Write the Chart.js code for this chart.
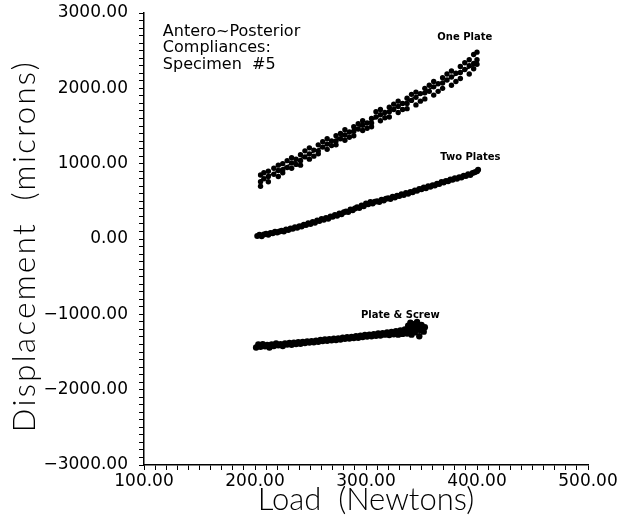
<!DOCTYPE html>
<html>
<head>
<meta charset="utf-8">
<script src="https://cdn.jsdelivr.net/npm/chart.js@4.4.1/dist/chart.umd.min.js"></script>
<style>
html,body{margin:0;padding:0;background:#fff;}
#wrap{width:622px;height:522px;}
</style>
</head>
<body>
<div id="wrap"><canvas id="c" width="622" height="522"></canvas></div>
<script>
// ---- Data ----
const onePlateLoad = [205,205,205,208,208,212,212,212,217,217,221,221,221,225,225,225,229,229,233,233,233,237,237,241,241,241,245,245,249,249,249,253,253,257,257,257,261,261,265,265,265,269,269,273,273,273,277,277,281,281,281,285,285,289,289,289,293,293,297,297,297,301,301,305,305,305,309,309,313,313,313,317,317,321,321,321,325,325,329,329,329,333,333,337,337,337,341,341,345,345,345,349,349,353,353,353,357,357,361,361,361,365,365,369,369,369,373,373,377,377,377,381,381,385,385,385,389,389,393,393,393,397,397,397,400,400,400];
const onePlateDisp = [850,760,700,800,880,830,900,760,940,860,910,980,830,1000,920,880,950,1040,1010,1080,940,1060,990,1120,1040,980,1090,1170,1130,1210,1060,1180,1100,1250,1170,1130,1220,1290,1260,1330,1190,1300,1240,1370,1300,1250,1330,1400,1380,1450,1310,1420,1350,1490,1430,1370,1460,1530,1510,1570,1440,1540,1470,1600,1540,1490,1620,1690,1650,1720,1570,1680,1610,1750,1690,1620,1720,1790,1760,1830,1680,1800,1720,1870,1800,1730,1840,1920,1880,1950,1780,1930,1830,2000,1940,1860,1960,2040,2020,2090,1910,2060,1960,2140,2070,2000,2110,2190,2150,2230,2040,2200,2090,2290,2210,2130,2250,2340,2300,2380,2190,2330,2450,2260,2480,2380,2320];
const onePlateFitLoad = [205,400];
const onePlateFitDisp = [780,2330];

const twoPlatesLoad = [202,204,206,208,210,212,214,216,218,220,222,224,226,228,230,232,234,236,238,240,242,244,246,248,250,252,254,256,258,260,262,264,266,268,270,272,274,276,278,280,282,284,286,288,290,292,294,296,298,300,302,304,306,308,310,312,314,316,318,320,322,324,326,328,330,332,334,336,338,340,342,344,346,348,350,352,354,356,358,360,362,364,366,368,370,372,374,376,378,380,382,384,386,388,390,392,394,396,398,400,401];
const twoPlatesDisp = [40,55,35,60,70,55,80,75,95,85,100,110,100,125,120,140,135,155,150,170,165,190,185,210,200,225,215,245,240,265,255,280,270,300,295,320,310,340,330,355,365,360,390,380,405,420,410,445,435,470,460,490,470,495,500,490,520,510,535,540,530,560,550,575,570,595,585,610,600,625,620,645,640,665,660,685,675,700,695,715,710,735,730,755,750,770,765,790,785,805,800,820,815,840,835,860,850,875,885,900,920];

const plateScrewLoad = [201,203,205,207,209,211,213,215,217,219,221,223,225,227,229,231,233,235,237,239,241,243,245,247,249,251,253,255,257,259,261,263,265,267,269,271,273,275,277,279,281,283,285,287,289,291,293,295,297,299,301,303,305,307,309,311,313,315,317,319,321,323,325,327,329,331,333,335,337,338,339,340,341,342,343,344,345,346,347,348,349,350,351,352,353];
const plateScrewDisp = [-1440,-1400,-1430,-1395,-1425,-1405,-1440,-1400,-1420,-1385,-1410,-1395,-1420,-1385,-1400,-1380,-1405,-1375,-1395,-1370,-1390,-1365,-1380,-1360,-1375,-1355,-1370,-1350,-1365,-1340,-1355,-1335,-1350,-1330,-1345,-1325,-1340,-1320,-1335,-1310,-1325,-1305,-1320,-1300,-1315,-1290,-1310,-1285,-1300,-1275,-1295,-1270,-1290,-1265,-1285,-1255,-1280,-1250,-1270,-1240,-1275,-1235,-1265,-1225,-1270,-1215,-1260,-1200,-1255,-1150,-1220,-1110,-1270,-1180,-1130,-1240,-1200,-1100,-1160,-1290,-1210,-1140,-1190,-1230,-1170];

const xTickValues = [100,200,300,400,500];
const yTickValues = [-3000,-2000,-1000,0,1000,2000,3000];

const seriesLabels = ["One Plate","Two Plates","Plate & Screw"];
const noteLines = ["Antero~Posterior","Compliances:","Specimen  #5"];
const xTitle = "Load  (Newtons)";
const yTitle = "Displacement  (microns)";

// ---- Build chart ----
function pts(xs, ys){ return xs.map((x,i)=>({x:x, y:ys[i]})); }
function fmt(v){ const s = Math.abs(v).toFixed(2); return v < 0 ? "\u2212" + s : s; }

const BASE = "'DejaVu Sans', 'Liberation Sans', sans-serif";
const LIGHT = "Lato, 'DejaVu Sans', sans-serif";

const labelPlugin = {
  id: 'labels',
  afterDraw(chart){
    const {ctx, scales:{x, y}} = chart;
    ctx.save();
    ctx.fillStyle = '#000';
    ctx.font = "bold 10px " + BASE;
    ctx.textAlign = 'center';
    ctx.textBaseline = 'middle';
    const anchors = [[389, 2680],[394, 1080],[331, -1010]];
    seriesLabels.forEach((t,i)=>{
      ctx.fillText(t, x.getPixelForValue(anchors[i][0]), y.getPixelForValue(anchors[i][1]));
    });
    ctx.font = "16px " + BASE;
    ctx.textAlign = 'left';
    const nx = x.getPixelForValue(117);
    noteLines.forEach((t,i)=>{
      ctx.fillText(t, nx, y.getPixelForValue(2750) + i*16.5);
    });
    // y axis title (drawn with letter spacing to match the reference's wide lettering)
    ctx.save();
    ctx.translate(25, (chart.chartArea.top + chart.chartArea.bottom) / 2 + 7);
    ctx.rotate(-Math.PI / 2);
    ctx.font = "300 31px " + LIGHT;
    ctx.letterSpacing = "2.4px";
    ctx.textAlign = 'center';
    ctx.textBaseline = 'middle';
    ctx.fillText(yTitle, 0, 0);
    ctx.restore();
    ctx.restore();
  }
};

new Chart(document.getElementById('c'), {
  type: 'scatter',
  data: {
    datasets: [
      { label: seriesLabels[0], data: pts(onePlateLoad, onePlateDisp), backgroundColor:'#000', borderColor:'#000', pointRadius:2.7, borderWidth:0 },
      { label: 'fit', data: pts(onePlateFitLoad, onePlateFitDisp), showLine:true, borderColor:'#000', borderWidth:1.5, pointRadius:0 },
      { label: seriesLabels[1], data: pts(twoPlatesLoad, twoPlatesDisp), backgroundColor:'#000', borderColor:'#000', pointRadius:3, borderWidth:0 },
      { label: seriesLabels[2], data: pts(plateScrewLoad, plateScrewDisp), backgroundColor:'#000', borderColor:'#000', pointRadius:3.2, borderWidth:0 }
    ]
  },
  options: {
    responsive: false,
    animation: false,
    events: [],
    layout: { padding: { top: 13, right: 34, bottom: 0, left: 0 } },
    plugins: { legend: { display: false }, tooltip: { enabled: false } },
    scales: {
      x: {
        type: 'linear', min: 100, max: 500,
        afterFit(s){ s.height = 57; s.paddingLeft = 0; s.paddingRight = 0; },
        border: { display: true, color: '#000', width: 1.5 },
        grid: { drawOnChartArea: false, drawTicks: true, tickLength: 5, color: '#000', lineWidth: 1 },
        ticks: {
          stepSize: 10, autoSkip: false, maxRotation: 0, padding: 1,
          color: '#000', font: { family: BASE, size: 17 },
          callback: (v) => xTickValues.includes(v) ? fmt(v) : ''
        },
        title: { display: true, text: xTitle, color: '#000', font: { family: LIGHT, size: 31, weight: 300, lineHeight: 1 }, padding: { top: 0, bottom: 7 } }
      },
      y: {
        type: 'linear', min: -3000, max: 3000,
        afterFit(s){ s.width = 144; s.paddingTop = 0; s.paddingBottom = 0; },
        border: { display: true, color: '#000', width: 1.5 },
        grid: { drawOnChartArea: false, drawTicks: true, tickLength: 5, color: '#000', lineWidth: 1 },
        ticks: {
          stepSize: 100, autoSkip: false, padding: 11,
          color: '#000', font: { family: BASE, size: 17 },
          callback: (v) => yTickValues.includes(v) ? fmt(v) : ''
        },
        title: { display: false, text: yTitle }
      }
    }
  },
  plugins: [labelPlugin]
});
</script>
</body>
</html>
